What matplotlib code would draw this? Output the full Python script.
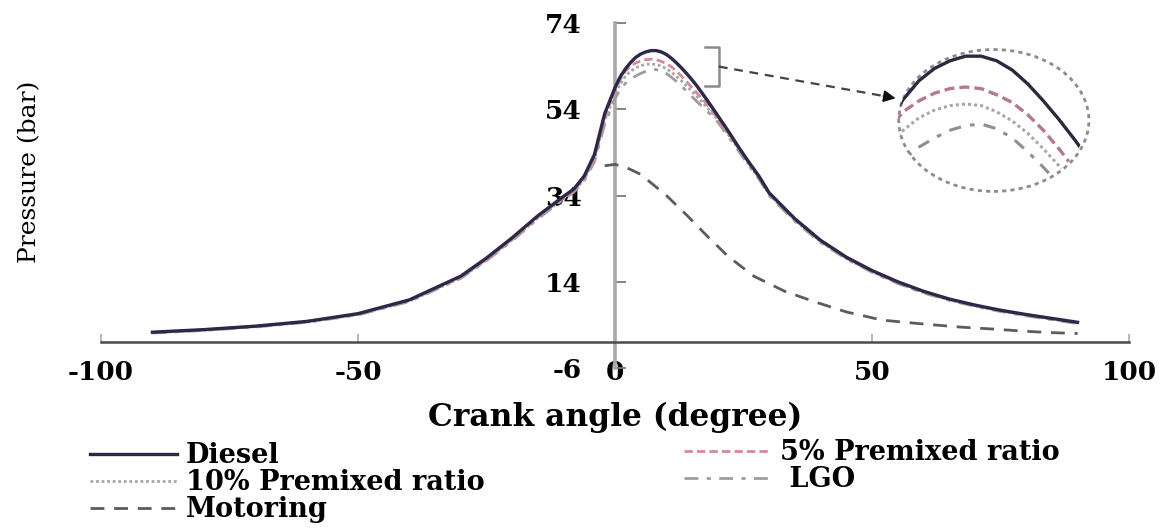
import matplotlib
matplotlib.use("Agg")
import matplotlib.pyplot as plt
from matplotlib.patches import Ellipse

# ---------------- data ----------------
angle = [-90, -80, -70, -60, -50, -40, -30, -25, -20, -15, -12, -10, -8, -6, -4, -2, 0,
         1, 2, 3, 4, 5, 6, 7, 8, 9, 10, 11, 12, 13, 14, 15, 16,
         18, 20, 22, 24, 26, 28, 30,
         35, 40, 45, 50, 55, 60, 65, 70, 75, 80, 85, 90]

diesel = [2.3, 2.9, 3.7, 4.8, 6.6, 9.8, 15.3, 19.5, 24.2, 29.3, 32.0, 33.8, 35.5, 38.5, 43.5, 53.0, 59.0,
          61.5, 63.3, 64.8, 66.0, 66.8, 67.3, 67.6, 67.6, 67.3, 66.7, 65.8, 64.7, 63.5, 62.2, 60.8, 59.3,
          56.0, 52.5, 49.0, 45.3, 41.8, 38.5, 34.6,
          28.6, 23.6, 19.7, 16.6, 14.0, 11.8, 10.0, 8.6, 7.4, 6.4, 5.5, 4.6]

premix5 = [2.2, 2.8, 3.6, 4.7, 6.5, 9.6, 15.0, 19.2, 23.9, 29.0, 31.7, 33.5, 35.2, 38.0, 42.8, 52.0, 58.4,
           60.8, 62.8, 64.0, 64.7, 65.2, 65.5, 65.6, 65.5, 65.1, 64.6, 63.8, 62.8, 61.6, 60.3, 59.0, 57.7,
           55.0, 51.8, 48.5, 45.0, 41.5, 38.2, 34.4,
           28.4, 23.4, 19.5, 16.4, 13.8, 11.6, 9.9, 8.5, 7.3, 6.3, 5.4, 4.5]

premix10 = [2.2, 2.8, 3.6, 4.6, 6.4, 9.5, 14.9, 19.0, 23.7, 28.8, 31.5, 33.3, 35.0, 37.7, 42.3, 51.3, 57.5,
            59.8, 61.6, 62.8, 63.6, 64.1, 64.4, 64.5, 64.4, 64.0, 63.4, 62.6, 61.6, 60.5, 59.3, 58.1, 56.9,
            54.3, 51.5, 48.2, 44.8, 41.3, 38.0, 34.2,
            28.2, 23.3, 19.4, 16.3, 13.7, 11.5, 9.8, 8.4, 7.2, 6.2, 5.3, 4.4]

lgo = [2.1, 2.7, 3.5, 4.6, 6.3, 9.4, 14.8, 18.9, 23.5, 28.6, 31.3, 33.1, 34.8, 37.4, 41.8, 50.5, 56.5,
       58.5, 60.0, 60.9, 61.7, 62.3, 62.8, 63.1, 63.2, 62.9, 62.3, 61.4, 60.4, 59.3, 58.1, 56.9, 55.7,
       53.5, 51.0, 47.8, 44.4, 41.0, 37.8, 34.0,
       28.0, 23.1, 19.3, 16.2, 13.6, 11.4, 9.7, 8.3, 7.1, 6.1, 5.2, 4.3]

angle_motoring = [-2, 0, 2, 5, 10, 14, 18, 22, 27, 33, 39, 45, 52, 60, 67, 74, 80, 85, 90]
motoring = [40.9, 41.2, 40.6, 38.9, 34.0, 29.4, 24.5, 19.9, 15.3, 11.8, 9.3, 7.0, 5.1, 4.2, 3.5, 3.0, 2.5, 2.2, 2.0]

xticks = [-100, -50, 0, 50, 100]
yticks = [-6, 14, 34, 54, 74]

labels = ["Diesel", "5% Premixed ratio", "10% Premixed ratio", " LGO", "Motoring"]

# ---------------- styling ----------------
plt.rcParams["font.family"] = ["DejaVu Serif", "DejaVu Sans"]
plt.rcParams["axes.unicode_minus"] = False

W, H = 1165, 528
fig = plt.figure(figsize=(W / 100, H / 100), dpi=100)


def fx(px):
    return px / W


def fy(py):
    return 1 - py / H


ax = fig.add_axes([fx(101), fy(368), (1129 - 101) / W, (368 - 23) / H])
ax.set_xlim(-100, 100)
ax.set_ylim(-6, 74)
for s in ("top", "right"):
    ax.spines[s].set_visible(False)
ax.spines["left"].set_position(("data", 0))
ax.spines["bottom"].set_position(("data", 0))
ax.spines["left"].set_color("#a9a9a9")
ax.spines["left"].set_linewidth(2.6)
ax.spines["bottom"].set_color("#4a4a4a")
ax.spines["bottom"].set_linewidth(1.8)

ax.set_xticks(xticks)
ax.set_yticks(yticks)
ax.set_xticklabels([str(v) for v in xticks])
ax.set_yticklabels([str(v) for v in yticks])
ax.tick_params(axis="y", direction="in", length=8, width=1.3, color="#7a7a7a", pad=24, labelsize=19)
ax.tick_params(axis="x", direction="in", length=6, width=1.3, color="#b0b0b0", pad=13, labelsize=19)
for lbl in ax.get_xticklabels() + ax.get_yticklabels():
    lbl.set_fontweight("bold")

c_diesel = "#2b2947"
c_p5 = "#d48a9c"
c_p10 = "#a6a6a6"
c_lgo = "#a39c96"
c_mot = "#5c5c5c"

l_mot, = ax.plot(angle_motoring, motoring, color=c_mot, lw=2.0, dashes=(5, 3.5), zorder=3)
l_lgo, = ax.plot(angle, lgo, color=c_lgo, lw=2.0, dashes=(5, 3, 1.5, 3), zorder=3)
l_p10, = ax.plot(angle, premix10, color=c_p10, lw=2.0, dashes=(1, 1), zorder=3)
l_p5, = ax.plot(angle, premix5, color=c_p5, lw=2.0, dashes=(3, 1.5), zorder=3)
l_d, = ax.plot(angle, diesel, color=c_diesel, lw=2.4, zorder=4)

# axis labels
ax.set_xlabel("Crank angle (degree)", fontsize=22.5, fontweight="bold")
ax.xaxis.set_label_coords((615 - 101) / 1028, (368 - 417) / 345)
ax.xaxis.label.set_verticalalignment("center")
ax.set_ylabel("Pressure (bar)", fontsize=18, fontweight="normal")
ax.yaxis.set_label_coords((30 - 101) / 1028, (368 - 172) / 345)
ax.yaxis.label.set_verticalalignment("center")
ax.yaxis.label.set_horizontalalignment("center")

# bracket + arrow towards the magnified view
ax.plot([17.5, 20.2, 20.2, 17.5], [68.5, 68.5, 59.3, 59.3], color="#8a8a8a", lw=1.8, zorder=3)
ax.plot([20.2, 52.6], [63.9, 57.0], color="#444444", lw=1.6, dashes=(4, 3), zorder=3)
ax.annotate("", xy=(54.6, 56.55), xytext=(52.2, 57.05),
            arrowprops=dict(arrowstyle="-|>", color="#111111", lw=1.2, mutation_scale=18,
                            shrinkA=0, shrinkB=0), zorder=5)

# dotted circle of the magnified view
circ = Ellipse((73.7, 51.4), 37.0, 32.9, fill=False, edgecolor="#8c8c8c", lw=2.0,
               linestyle=(0, (1.5, 1.5)), zorder=3)
ax.add_patch(circ)

# magnified inset (same data, zoomed axis limits)
axin = fig.add_axes([fx(897), fy(192), 190 / W, 142 / H])
axin.set_xlim(2.6, 14.8)
axin.set_ylim(58.8, 68.0)
axin.set_axis_off()
axin.patch.set_alpha(0)
clip = Ellipse((0.5, 0.5), 0.99, 0.99, transform=axin.transAxes)
for ys, kw in [(lgo, dict(color="#8f8f8f", lw=2.2, dashes=(4, 3, 1.5, 3))),
               (premix10, dict(color="#a8a8a8", lw=2.2, dashes=(1, 1))),
               (premix5, dict(color="#b57a88", lw=2.4, dashes=(3, 1.5))),
               (diesel, dict(color="#2a2a3c", lw=2.4))]:
    ln, = axin.plot(angle, ys, **kw)
    ln.set_clip_path(clip)

# legends
legprops = dict(family="DejaVu Serif", weight="bold", size=19.5)
leg1 = fig.legend([l_d, l_p10, l_mot], [labels[0], labels[2], labels[4]],
                  loc="upper left", bbox_to_anchor=(fx(90), fy(442)), frameon=False,
                  prop=legprops, handlelength=3.2, handletextpad=0.35, labelspacing=0.0,
                  borderaxespad=0, borderpad=0)
leg2 = fig.legend([l_p5, l_lgo], [labels[1], labels[3]],
                  loc="upper left", bbox_to_anchor=(fx(684), fy(439)), frameon=False,
                  prop=legprops, handlelength=3.2, handletextpad=0.35, labelspacing=0.0,
                  borderaxespad=0, borderpad=0)

fig.savefig("out.png", dpi=100)
